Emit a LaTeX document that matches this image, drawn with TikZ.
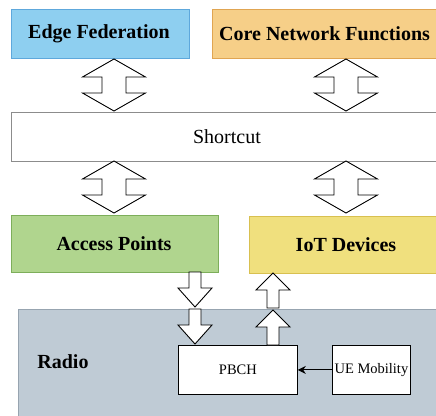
\documentclass[tikz,border=0pt]{standalone}
\usepackage{fontspec}
\setmainfont{Liberation Serif}
\usetikzlibrary{calc,arrows.meta}
\definecolor{efFill}{HTML}{8ECFF0}\definecolor{efLine}{HTML}{5EA8DC}
\definecolor{cnFill}{HTML}{F6CF88}\definecolor{cnLine}{HTML}{E0A552}
\definecolor{apFill}{HTML}{B0D58E}\definecolor{apLine}{HTML}{7DAE5A}
\definecolor{ioFill}{HTML}{F0E07E}\definecolor{ioLine}{HTML}{D8C050}
\definecolor{raFill}{HTML}{BFCBD5}\definecolor{raLine}{HTML}{97A4B0}
\tikzset{
  box/.style={draw, line width=0.8pt, inner sep=0pt, anchor=north west},
  title/.style={font=\bfseries\fontsize{20}{24}\selectfont},
  small/.style={font=\fontsize{14.5}{17}\selectfont},
  blockarrow/.style={draw=black, fill=white, line width=0.9pt, line join=miter},
}
\begin{document}
\begin{tikzpicture}[x=1pt, y=-1pt]
  \clip (0,0) rectangle (436,415);
  \fill[white] (0,0) rectangle (436,415);
  % top row
  \node[box, fill=efFill, draw=efLine, minimum width=178pt, minimum height=49pt] (ef) at (11,9) {};
  \node[title] (eft) at (99,33.5) {Edge Federation};
  \node[box, fill=cnFill, draw=cnLine, minimum width=240pt, minimum height=49pt] (cn) at (212,9) {};
  \node[title, anchor=west, inner sep=0pt] (cnt) at (219,33.5) {Core Network Functions};
  % shortcut bar
  \node[box, fill=white, draw=black!45, minimum width=440pt, minimum height=49pt] (sc) at (11,112) {};
  \node[font=\fontsize{20}{24}\selectfont] (sct) at (227,136.5) {Shortcut};
  % second row
  \node[box, fill=apFill, draw=apLine, minimum width=207pt, minimum height=57pt] (ap) at (11,215) {};
  \node[title] (apt) at (114,244) {Access Points};
  \node[box, fill=ioFill, draw=ioLine, minimum width=200pt, minimum height=57pt] (io) at (249,216) {};
  \node[title] (iot) at (346,244.5) {IoT Devices};
  % radio layer
  \node[box, fill=raFill, draw=raLine, minimum width=430pt, minimum height=120pt] (ra) at (18,309) {};
  \node[title] (rat) at (63,362) {Radio};
  \node[box, fill=white, draw=black, minimum width=119pt, minimum height=49pt, small] (pb) at (178,345) {PBCH};
  \node[box, fill=white, draw=black, minimum width=78pt, minimum height=49pt, small] (ue) at (332,345) {UE Mobility};
  \draw[line width=0.9pt, -{Stealth[length=8pt,width=8pt]}] (ue.west) -- (pb.east);

  % double-headed block arrows between the layers
  \foreach \cx/\ty/\by in {114/59/111, 346/59/111, 114/161/213, 346/161/213}{
    \draw[blockarrow] (\cx,\ty) -- ++(31.5,18) -- ++(-19.5,0) -- (\cx+12,\by-18) -- ++(19.5,0)
      -- (\cx,\by) -- ++(-31.5,-18) -- ++(19.5,0) -- (\cx-12,\ty+18) -- ++(-19.5,0) -- cycle;
  }
  % downward block arrows: access points -> radio -> PBCH
  \foreach \cx/\ty/\by in {195/272/307, 195/309/344}{
    \draw[blockarrow] (\cx-6,\ty) -- (\cx+6,\ty) -- (\cx+6,\by-19) -- (\cx+17,\by-19) -- (\cx,\by)
      -- (\cx-17,\by-19) -- (\cx-6,\by-19) -- cycle;
  }
  % upward block arrows: PBCH -> radio -> IoT devices
  \foreach \cx/\by/\ty in {273/345/310, 273/308/273}{
    \draw[blockarrow] (\cx-6,\by) -- (\cx+6,\by) -- (\cx+6,\ty+17) -- (\cx+17,\ty+17) -- (\cx,\ty)
      -- (\cx-17,\ty+17) -- (\cx-6,\ty+17) -- cycle;
  }
\end{tikzpicture}
\end{document}
